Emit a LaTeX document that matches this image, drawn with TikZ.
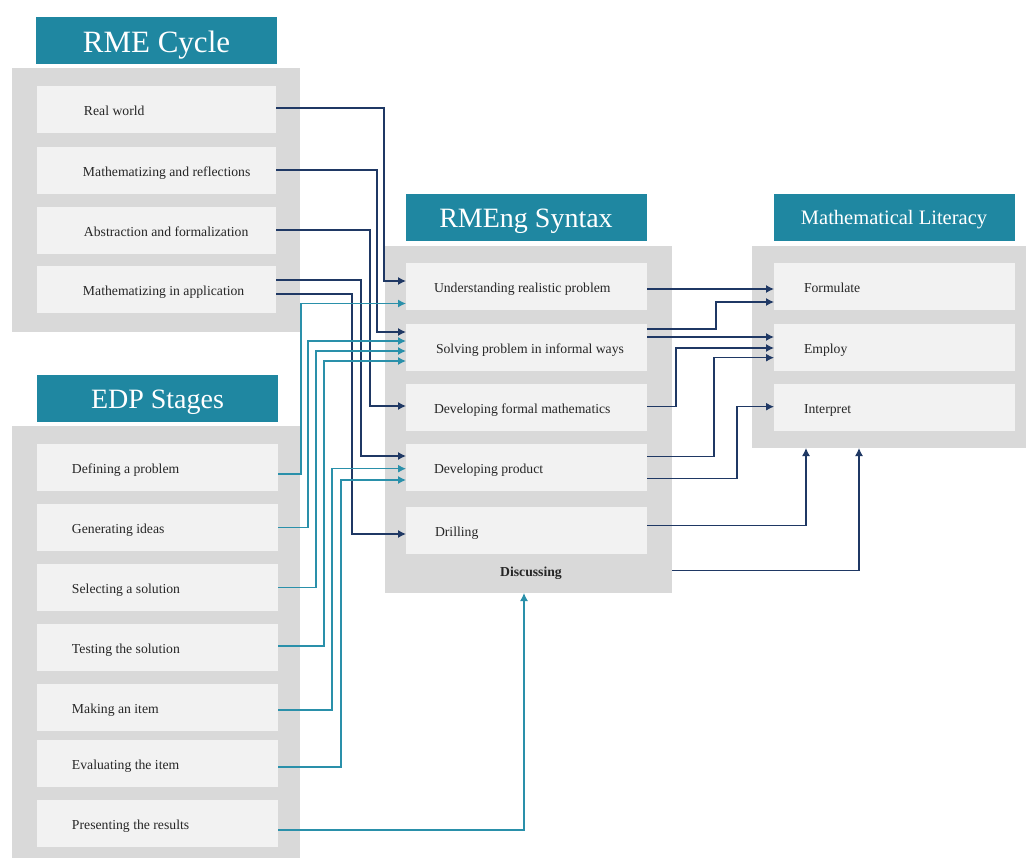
\documentclass[tikz,border=0pt]{standalone}
\usepackage{fontspec}
\setmainfont{Liberation Serif}
\usetikzlibrary{arrows.meta,calc}
\definecolor{hdr}{HTML}{1F87A1}
\definecolor{pnl}{HTML}{D9D9D9}
\definecolor{itm}{HTML}{F2F2F2}
\definecolor{nv}{HTML}{1F3864}
\definecolor{tl}{HTML}{2A90AA}
\newcommand\mkitem[3]{\makebox[#1][l]{\hspace{#2}#3}}
\begin{document}
\begin{tikzpicture}[x=1pt,y=-1pt,
  panelbox/.style={fill=pnl,inner sep=0pt,outer sep=0pt},
  hdrbox/.style={fill=hdr,text=white,inner sep=0pt,outer sep=0pt,minimum width=241pt,minimum height=47pt,text depth=0pt},
  itembox/.style={fill=itm,inner sep=0pt,outer sep=0pt,minimum height=47pt,text height=12pt,text depth=0pt,text=black!85,font=\fontsize{13.7}{16}\selectfont},
  nvline/.style={draw=nv,line width=1.3pt,-{Latex[length=8pt,width=8pt]}},
  tlline/.style={draw=tl,line width=1.3pt,-{Latex[length=8pt,width=8pt]}}]
\useasboundingbox (0,0) rectangle (1026,859);
% panels
\node[panelbox,minimum width=288pt,minimum height=264pt] (rmep) at (156,200) {};
\node[panelbox,minimum width=288pt,minimum height=432pt] (edpp) at (156,642) {};
\node[panelbox,minimum width=287pt,minimum height=347pt] (rmp) at (528.5,419.5) {};
\node[panelbox,minimum width=274pt,minimum height=202pt] (mlp) at (889,347) {};
% headers
\node[hdrbox,text height=23.5pt,font=\fontsize{31}{34}\selectfont] (h1) at (156.5,40.5) {RME Cycle};
\node[hdrbox,text height=20.5pt,font=\fontsize{28}{32}\selectfont] (h2) at (157.5,398.5) {EDP Stages};
\node[hdrbox,text height=19pt,font=\fontsize{28}{32}\selectfont] (h3) at (526,217.5) {RMEng Syntax};
\node[hdrbox,text height=14.2pt,font=\fontsize{20.5}{24}\selectfont] (h4) at (894,217.5) {Mathematical Literacy};
% RME items
\node[itembox] (rw) at (156.5,109.5) {\mkitem{239pt}{47pt}{Real world}};
\node[itembox] (mar) at (156.5,170) {\mkitem{239pt}{46pt}{Mathematizing and reflections}};
\node[itembox] (abs) at (156.5,230) {\mkitem{239pt}{47pt}{Abstraction and formalization}};
\node[itembox] (mia) at (156.5,289) {\mkitem{239pt}{46pt}{Mathematizing in application}};
% EDP items
\node[itembox] (def) at (157.5,467.5) {\mkitem{241pt}{35pt}{Defining a problem}};
\node[itembox] (gen) at (157.5,527.5) {\mkitem{241pt}{35pt}{Generating ideas}};
\node[itembox] (sel) at (157.5,587.5) {\mkitem{241pt}{35pt}{Selecting a solution}};
\node[itembox] (tst) at (157.5,647.5) {\mkitem{241pt}{35pt}{Testing the solution}};
\node[itembox] (mk) at (157.5,707.5) {\mkitem{241pt}{35pt}{Making an item}};
\node[itembox] (ev) at (157.5,763.5) {\mkitem{241pt}{35pt}{Evaluating the item}};
\node[itembox] (pr) at (157.5,823.5) {\mkitem{241pt}{35pt}{Presenting the results}};
% RMEng items
\node[itembox] (und) at (526.5,286.5) {\mkitem{241pt}{28pt}{Understanding realistic problem}};
\node[itembox] (sol) at (526.5,347.5) {\mkitem{241pt}{30pt}{Solving problem in informal ways}};
\node[itembox] (dfm) at (526.5,407.5) {\mkitem{241pt}{28pt}{Developing formal mathematics}};
\node[itembox] (dp) at (526.5,467.5) {\mkitem{241pt}{28pt}{Developing product}};
\node[itembox] (dr) at (526.5,530.5) {\mkitem{241pt}{29pt}{Drilling}};
\node[inner sep=0pt,font=\fontsize{13.7}{16}\selectfont\bfseries,text=black!85] (disc) at (531,573) {Discussing};
% ML items
\node[itembox] (form) at (894.5,286.5) {\mkitem{241pt}{30pt}{Formulate}};
\node[itembox] (emp) at (894.5,347.5) {\mkitem{241pt}{30pt}{Employ}};
\node[itembox] (int) at (894.5,407.5) {\mkitem{241pt}{30pt}{Interpret}};
% RME -> RMEng
\draw[nvline] ([yshift=1.5pt]rw.east) -| ([xshift=-22pt,yshift=5.5pt]und.west) -- ([yshift=5.5pt]und.west);
\draw[nvline] (mar.east) -| ([xshift=-29pt,yshift=15.5pt]sol.west) -- ([yshift=15.5pt]sol.west);
\draw[nvline] (abs.east) -| ([xshift=-36pt,yshift=1.5pt]dfm.west) -- ([yshift=1.5pt]dfm.west);
\draw[nvline] ([yshift=9pt]mia.east) -| ([xshift=-45pt,yshift=11.5pt]dp.west) -- ([yshift=11.5pt]dp.west);
\draw[nvline] ([yshift=-5pt]mia.east) -| ([xshift=-54pt,yshift=-3.5pt]dr.west) -- ([yshift=-3.5pt]dr.west);
% EDP -> RMEng
\draw[tlline] ([yshift=-6.5pt]def.east) -| ([xshift=-105pt,yshift=-17pt]und.west) -- ([yshift=-17pt]und.west);
\draw[tlline] (gen.east) -| ([xshift=-98pt,yshift=6.5pt]sol.west) -- ([yshift=6.5pt]sol.west);
\draw[tlline] (sel.east) -| ([xshift=-90pt,yshift=-3.5pt]sol.west) -- ([yshift=-3.5pt]sol.west);
\draw[tlline] ([yshift=1.5pt]tst.east) -| ([xshift=-82pt,yshift=-13.5pt]sol.west) -- ([yshift=-13.5pt]sol.west);
\draw[tlline] ([yshift=-2.5pt]mk.east) -| ([xshift=-74pt,yshift=-1.2pt]dp.west) -- ([yshift=-1.2pt]dp.west);
\draw[tlline] ([yshift=-3.5pt]ev.east) -| ([xshift=-65pt,yshift=-12.5pt]dp.west) -- ([yshift=-12.5pt]dp.west);
\draw[tlline] ([yshift=-6.5pt]pr.east) -| ([xshift=-4.5pt]rmp.south);
% RMEng -> ML
\draw[nvline] ([yshift=-2.5pt]und.east) -- ([yshift=-2.5pt]form.west);
\draw[nvline] ([yshift=18.5pt]sol.east) -| ([xshift=-58pt,yshift=-15.5pt]form.west) -- ([yshift=-15.5pt]form.west);
\draw[nvline] ([yshift=10.5pt]sol.east) -- ([yshift=10.5pt]emp.west);
\draw[nvline] ([yshift=0.8pt]dfm.east) -| ([xshift=-98pt,yshift=-0.5pt]emp.west) -- ([yshift=-0.5pt]emp.west);
\draw[nvline] ([yshift=10.8pt]dp.east) -| ([xshift=-60pt,yshift=-10.2pt]emp.west) -- ([yshift=-10.2pt]emp.west);
\draw[nvline] ([yshift=-10.8pt]dp.east) -| ([xshift=-37pt,yshift=0.8pt]int.west) -- ([yshift=0.8pt]int.west);
\draw[nvline] ([yshift=4.8pt]dr.east) -| ([xshift=-83pt]mlp.south);
\draw[nvline] ([yshift=-151.2pt]rmp.east) -| ([xshift=-30pt]mlp.south);
\end{tikzpicture}
\end{document}
